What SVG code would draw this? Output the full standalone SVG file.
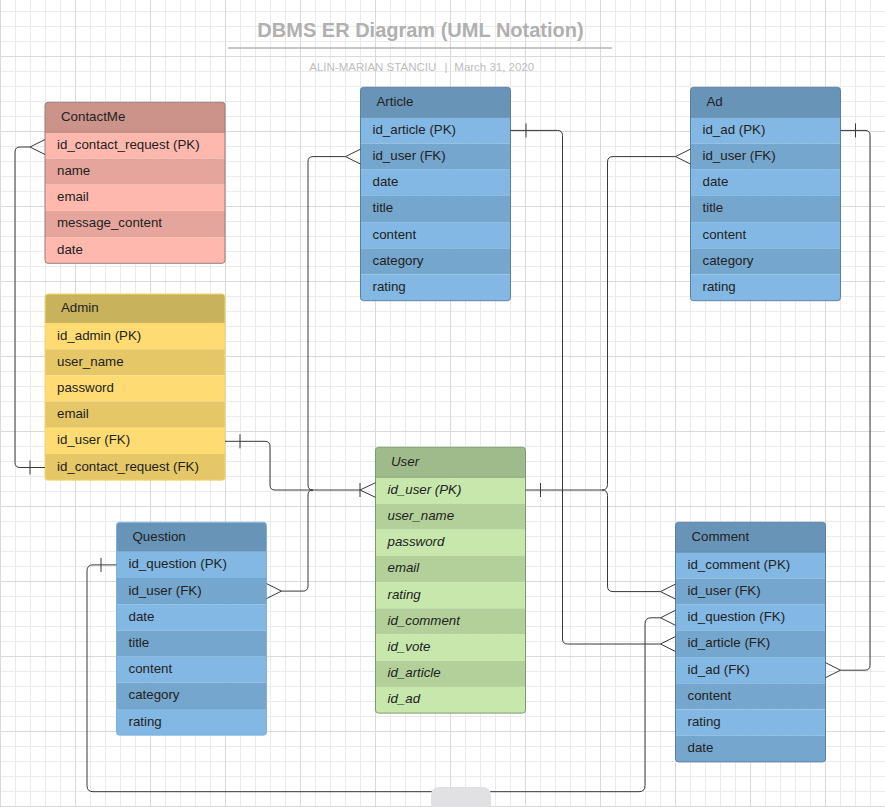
<svg xmlns="http://www.w3.org/2000/svg" width="885" height="807" viewBox="0 0 885 807">
<style>
.t{font-family:"Liberation Sans",Arial,sans-serif;font-size:13.3px;fill:#222;transform:translate(0px,-0.8px)}
.it{font-style:italic}
.conn path{fill:none;stroke:#383838;stroke-width:1}
.cmh{fill:#cc938b}.cml{fill:#ffb8ae}.cmd{fill:#e6a59c}
.adh{fill:#c9b25c}.adl{fill:#ffdc73}.add{fill:#e6c768}
.blh{fill:#6894b8}.bll{fill:#82b8e3}.bld{fill:#75a6cd}
.ush{fill:#9fbb8c}.usl{fill:#c7e7ac}.usd{fill:#b3d09a}
</style>
<defs>
<pattern id="grid" width="75" height="75" patternUnits="userSpaceOnUse" x="0" y="-19">
<rect width="75" height="75" fill="#ffffff"/>
<path d="M0 15.5H75M0 30.5H75M0 45.5H75M0 60.5H75M15.5 0V75M30.5 0V75M45.5 0V75M60.5 0V75" stroke="#ebebeb" stroke-width="1" fill="none"/>
<path d="M0 0.5H75M0.5 0V75" stroke="#dadada" stroke-width="1" fill="none"/>
</pattern>
<clipPath id="c-contactme"><rect x="45" y="102.3" width="180" height="161" rx="3"/></clipPath>
<clipPath id="c-admin"><rect x="45" y="294" width="180" height="186.2" rx="3"/></clipPath>
<clipPath id="c-article"><rect x="360.5" y="87.3" width="150" height="213.4" rx="3"/></clipPath>
<clipPath id="c-ad"><rect x="690.5" y="87.3" width="150" height="213.4" rx="3"/></clipPath>
<clipPath id="c-user"><rect x="375.5" y="447.3" width="150" height="265.8" rx="3"/></clipPath>
<clipPath id="c-question"><rect x="116.5" y="522.3" width="150" height="212.9" rx="3"/></clipPath>
<clipPath id="c-comment"><rect x="675.5" y="522.3" width="150" height="239.6" rx="3"/></clipPath>
</defs>

<rect x="0" y="0" width="885" height="807" fill="url(#grid)"/>

<g id="title">
<text x="420.5" y="36.5" text-anchor="middle" style="font-family:'Liberation Sans',Arial,sans-serif;font-size:20px;font-weight:bold;fill:#b0b0b0">DBMS ER Diagram (UML Notation)</text>
<line x1="228" y1="48" x2="612" y2="48" stroke="#b5b5b5" stroke-width="1.6"/>
<text y="71" style="font-family:'Liberation Sans',Arial,sans-serif;font-size:11.5px;fill:#bdbdbd"><tspan x="309.3">ALIN-MARIAN STANCIU</tspan><tspan x="444.5">|</tspan><tspan x="454.3">March 31, 2020</tspan></text>
</g>

<g id="contactme">
<g clip-path="url(#c-contactme)">
<rect class="cmh" x="45" y="102.3" width="180" height="30"/>
<rect class="cml" x="45" y="132.3" width="180" height="26.2"/>
<rect class="cmd" x="45" y="158.5" width="180" height="26.2"/>
<rect class="cml" x="45" y="184.7" width="180" height="26.2"/>
<rect class="cmd" x="45" y="210.9" width="180" height="26.2"/>
<rect class="cml" x="45" y="237.1" width="180" height="26.2"/>
</g>
<line x1="45" y1="132.3" x2="225" y2="132.3" stroke="#a07a74" stroke-width="0.8"/>
<rect x="45" y="102.3" width="180" height="161" rx="3" fill="none" stroke="#9a7b76" stroke-width="1"/>
<text class="t" x="61" y="121.6">ContactMe</text>
<text class="t" x="57" y="149.7">id_contact_request (PK)</text>
<text class="t" x="57" y="175.9">name</text>
<text class="t" x="57" y="202.1">email</text>
<text class="t" x="57" y="228.3">message_content</text>
<text class="t" x="57" y="254.5">date</text>
</g>

<g id="admin">
<g clip-path="url(#c-admin)">
<rect class="adh" x="45" y="294" width="180" height="29"/>
<rect class="adl" x="45" y="323" width="180" height="26.2"/>
<rect class="add" x="45" y="349.2" width="180" height="26.2"/>
<rect class="adl" x="45" y="375.4" width="180" height="26.2"/>
<rect class="add" x="45" y="401.6" width="180" height="26.2"/>
<rect class="adl" x="45" y="427.8" width="180" height="26.2"/>
<rect class="add" x="45" y="454" width="180" height="26.2"/>
</g>
<rect x="45" y="294" width="180" height="186.2" rx="3" fill="none" stroke="#f3d46e" stroke-width="1"/>
<text class="t" x="61" y="312.8">Admin</text>
<text class="t" x="57" y="340.4">id_admin (PK)</text>
<text class="t" x="57" y="366.6">user_name</text>
<text class="t" x="57" y="392.8">password</text>
<text class="t" x="57" y="419">email</text>
<text class="t" x="57" y="445.2">id_user (FK)</text>
<text class="t" x="57" y="471.4">id_contact_request (FK)</text>
</g>

<g id="article">
<g clip-path="url(#c-article)">
<rect class="blh" x="360.5" y="87.3" width="150" height="30"/>
<rect class="bll" x="360.5" y="117.3" width="150" height="26.2"/>
<rect class="bld" x="360.5" y="143.5" width="150" height="26.2"/>
<rect class="bll" x="360.5" y="169.7" width="150" height="26.2"/>
<rect class="bld" x="360.5" y="195.9" width="150" height="26.2"/>
<rect class="bll" x="360.5" y="222.1" width="150" height="26.2"/>
<rect class="bld" x="360.5" y="248.3" width="150" height="26.2"/>
<rect class="bll" x="360.5" y="274.5" width="150" height="26.2"/>
</g>
<line x1="360.5" y1="117.3" x2="510.5" y2="117.3" stroke="#5d83a3" stroke-width="0.8"/>
<rect x="360.5" y="87.3" width="150" height="213.4" rx="3" fill="none" stroke="#5b7f9f" stroke-width="1"/>
<text class="t" x="376.5" y="106.6">Article</text>
<text class="t" x="372.5" y="134.7">id_article (PK)</text>
<text class="t" x="372.5" y="160.9">id_user (FK)</text>
<text class="t" x="372.5" y="187.1">date</text>
<text class="t" x="372.5" y="213.3">title</text>
<text class="t" x="372.5" y="239.5">content</text>
<text class="t" x="372.5" y="265.7">category</text>
<text class="t" x="372.5" y="291.9">rating</text>
</g>

<g id="ad">
<g clip-path="url(#c-ad)">
<rect class="blh" x="690.5" y="87.3" width="150" height="30"/>
<rect class="bll" x="690.5" y="117.3" width="150" height="26.2"/>
<rect class="bld" x="690.5" y="143.5" width="150" height="26.2"/>
<rect class="bll" x="690.5" y="169.7" width="150" height="26.2"/>
<rect class="bld" x="690.5" y="195.9" width="150" height="26.2"/>
<rect class="bll" x="690.5" y="222.1" width="150" height="26.2"/>
<rect class="bld" x="690.5" y="248.3" width="150" height="26.2"/>
<rect class="bll" x="690.5" y="274.5" width="150" height="26.2"/>
</g>
<line x1="690.5" y1="117.3" x2="840.5" y2="117.3" stroke="#5d83a3" stroke-width="0.8"/>
<rect x="690.5" y="87.3" width="150" height="213.4" rx="3" fill="none" stroke="#5b7f9f" stroke-width="1"/>
<text class="t" x="706.5" y="106.6">Ad</text>
<text class="t" x="702.5" y="134.7">id_ad (PK)</text>
<text class="t" x="702.5" y="160.9">id_user (FK)</text>
<text class="t" x="702.5" y="187.1">date</text>
<text class="t" x="702.5" y="213.3">title</text>
<text class="t" x="702.5" y="239.5">content</text>
<text class="t" x="702.5" y="265.7">category</text>
<text class="t" x="702.5" y="291.9">rating</text>
</g>

<g id="user">
<g clip-path="url(#c-user)">
<rect class="ush" x="375.5" y="447.3" width="150" height="30"/>
<rect class="usl" x="375.5" y="477.3" width="150" height="26.2"/>
<rect class="usd" x="375.5" y="503.5" width="150" height="26.2"/>
<rect class="usl" x="375.5" y="529.7" width="150" height="26.2"/>
<rect class="usd" x="375.5" y="555.9" width="150" height="26.2"/>
<rect class="usl" x="375.5" y="582.1" width="150" height="26.2"/>
<rect class="usd" x="375.5" y="608.3" width="150" height="26.2"/>
<rect class="usl" x="375.5" y="634.5" width="150" height="26.2"/>
<rect class="usd" x="375.5" y="660.7" width="150" height="26.2"/>
<rect class="usl" x="375.5" y="686.9" width="150" height="26.2"/>
</g>
<line x1="375.5" y1="477.3" x2="525.5" y2="477.3" stroke="#7e9b6d" stroke-width="0.8"/>
<rect x="375.5" y="447.3" width="150" height="265.8" rx="3" fill="none" stroke="#7d9a6c" stroke-width="1"/>
<text class="t it" x="391" y="466.6">User</text>
<text class="t it" x="387.5" y="494.7">id_user (PK)</text>
<text class="t it" x="387.5" y="520.9">user_name</text>
<text class="t it" x="387.5" y="547.1">password</text>
<text class="t it" x="387.5" y="573.3">email</text>
<text class="t it" x="387.5" y="599.5">rating</text>
<text class="t it" x="387.5" y="625.7">id_comment</text>
<text class="t it" x="387.5" y="651.9">id_vote</text>
<text class="t it" x="387.5" y="678.1">id_article</text>
<text class="t it" x="387.5" y="704.3">id_ad</text>
</g>

<g id="question">
<g clip-path="url(#c-question)">
<rect class="blh" x="116.5" y="522.3" width="150" height="29.5"/>
<rect class="bll" x="116.5" y="551.8" width="150" height="26.2"/>
<rect class="bld" x="116.5" y="578" width="150" height="26.2"/>
<rect class="bll" x="116.5" y="604.2" width="150" height="26.2"/>
<rect class="bld" x="116.5" y="630.4" width="150" height="26.2"/>
<rect class="bll" x="116.5" y="656.6" width="150" height="26.2"/>
<rect class="bld" x="116.5" y="682.8" width="150" height="26.2"/>
<rect class="bll" x="116.5" y="709" width="150" height="26.2"/>
</g>
<rect x="116.5" y="522.3" width="150" height="212.9" rx="3" fill="none" stroke="#7cb3de" stroke-width="1"/>
<text class="t" x="132.5" y="541.4">Question</text>
<text class="t" x="128.5" y="569.2">id_question (PK)</text>
<text class="t" x="128.5" y="595.4">id_user (FK)</text>
<text class="t" x="128.5" y="621.6">date</text>
<text class="t" x="128.5" y="647.8">title</text>
<text class="t" x="128.5" y="674">content</text>
<text class="t" x="128.5" y="700.2">category</text>
<text class="t" x="128.5" y="726.4">rating</text>
</g>

<g id="comment">
<g clip-path="url(#c-comment)">
<rect class="blh" x="675.5" y="522.3" width="150" height="30"/>
<rect class="bll" x="675.5" y="552.3" width="150" height="26.2"/>
<rect class="bld" x="675.5" y="578.5" width="150" height="26.2"/>
<rect class="bll" x="675.5" y="604.7" width="150" height="26.2"/>
<rect class="bld" x="675.5" y="630.9" width="150" height="26.2"/>
<rect class="bll" x="675.5" y="657.1" width="150" height="26.2"/>
<rect class="bld" x="675.5" y="683.3" width="150" height="26.2"/>
<rect class="bll" x="675.5" y="709.5" width="150" height="26.2"/>
<rect class="bld" x="675.5" y="735.7" width="150" height="26.2"/>
</g>
<line x1="675.5" y1="552.3" x2="825.5" y2="552.3" stroke="#5d83a3" stroke-width="0.8"/>
<rect x="675.5" y="522.3" width="150" height="239.6" rx="3" fill="none" stroke="#5b7f9f" stroke-width="1"/>
<text class="t" x="691.5" y="541.6">Comment</text>
<text class="t" x="687.5" y="569.7">id_comment (PK)</text>
<text class="t" x="687.5" y="595.9">id_user (FK)</text>
<text class="t" x="687.5" y="622.1">id_question (FK)</text>
<text class="t" x="687.5" y="648.3">id_article (FK)</text>
<text class="t" x="687.5" y="674.5">id_ad (FK)</text>
<text class="t" x="687.5" y="700.7">content</text>
<text class="t" x="687.5" y="726.9">rating</text>
<text class="t" x="687.5" y="753.1">date</text>
</g>

<g id="connectors" class="conn">
<!-- ContactMe - Admin -->
<path d="M30,147 H20 Q15,147 15,152 V462.5 Q15,467.5 20,467.5 H45"/>
<path d="M45,139.5 L30,147 L45,154.5"/>
<path d="M30,460.5 V474.5"/>
<!-- Admin id_user - User -->
<path d="M225,441.3 H265 Q270,441.3 270,446.3 V485 Q270,490 275,490 H360"/>
<path d="M240,434.3 V448.3"/>
<!-- Article id_user - User -->
<path d="M345.5,156.6 H313 Q308,156.6 308,161.6 V485 Q308,490 313,490"/>
<path d="M360.5,149.1 L345.5,156.6 L360.5,164.1"/>
<!-- Question id_user - User -->
<path d="M281.5,591.1 H303 Q308,591.1 308,586.1 V495 Q308,490 313,490"/>
<path d="M266.5,583.6 L281.5,591.1 L266.5,598.6"/>
<!-- User end: one-or-many -->
<path d="M360,483 V497"/>
<path d="M375.5,482.7 L360,490 L375.5,497.3"/>
<!-- User - Ad id_user / Comment id_user -->
<path d="M525.5,490 H602 Q607.5,490 607.5,484.5 V162.1 Q607.5,156.6 613,156.6 H675.5"/>
<path d="M602,490 Q607.5,490 607.5,495.5 V586.1 Q607.5,591.6 613,591.6 H660.5"/>
<path d="M540.5,483 V497"/>
<path d="M690.5,149.1 L675.5,156.6 L690.5,164.1"/>
<path d="M675.5,584.1 L660.5,591.6 L675.5,599.1"/>
<!-- Article id_article - Comment id_article -->
<path d="M510.5,130.4 H557.5 Q562.5,130.4 562.5,135.4 V639 Q562.5,644 567.5,644 H660.5"/>
<path d="M526,123.4 V137.4"/>
<path d="M675.5,636.5 L660.5,644 L675.5,651.5"/>
<!-- Ad id_ad - Comment id_ad -->
<path d="M840.5,130.4 H865 Q870,130.4 870,135.4 V665.2 Q870,670.2 865,670.2 H840.5"/>
<path d="M855.5,123.4 V137.4"/>
<path d="M825.5,662.7 L840.5,670.2 L825.5,677.7"/>
<!-- Question id_question - Comment id_question -->
<path d="M116.5,564.9 H93 Q87,564.9 87,570.9 V785.7 Q87,791.7 93,791.7 H639 Q645,791.7 645,785.7 V623.8 Q645,617.8 651,617.8 H660.5"/>
<path d="M101,557.9 V571.9"/>
<path d="M675.5,610.3 L660.5,617.8 L675.5,625.3"/>
</g>

<rect x="431" y="787" width="60" height="30" rx="8" fill="#e1e1e3"/>
</svg>
